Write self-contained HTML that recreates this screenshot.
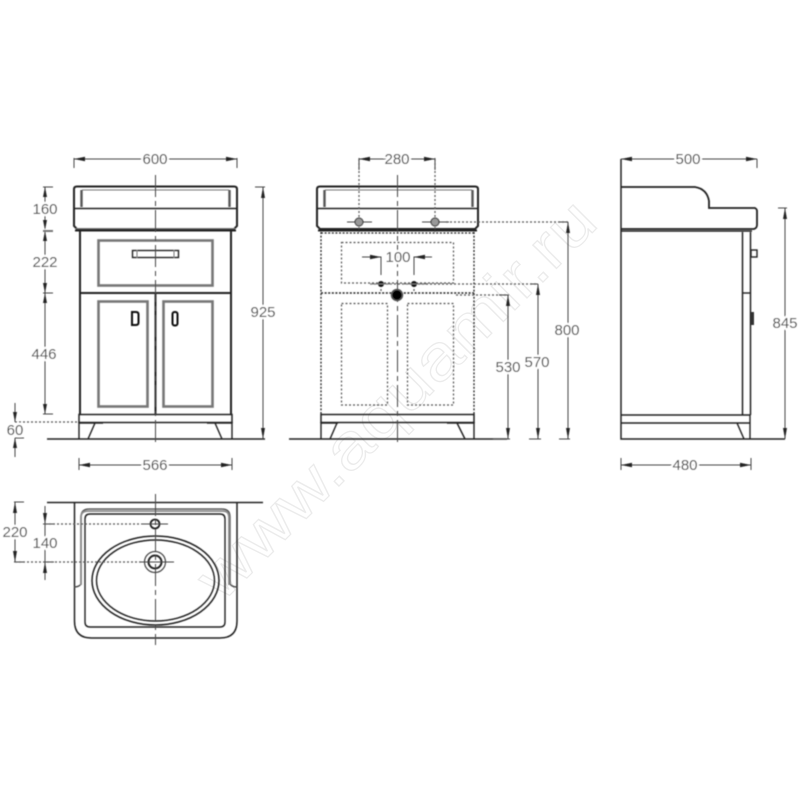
<!DOCTYPE html>
<html><head><meta charset="utf-8"><style>
html,body{margin:0;padding:0;background:#fff;width:800px;height:800px;overflow:hidden}
svg{display:block}
text.d{font:15px "Liberation Sans",sans-serif;fill:#444;text-anchor:middle;paint-order:stroke;stroke:#fff;stroke-width:4px;stroke-linejoin:round}
.o{fill:none;stroke:#222;stroke-width:1.4}
.t{fill:none;stroke:#222;stroke-width:2}
.g{fill:none;stroke:#777;stroke-width:1}
.p{fill:none;stroke:#777;stroke-width:2.6}
.dim{fill:none;stroke:#444;stroke-width:1}
.c{fill:none;stroke:#444;stroke-width:1;stroke-dasharray:22 4 5 4}
.dot{fill:none;stroke:#555;stroke-width:1.2;stroke-dasharray:2 2}
.dotk{fill:none;stroke:#222;stroke-width:1.6;stroke-dasharray:2 1.6}
</style></head><body>
<svg width="800" height="800" viewBox="0 0 800 800" xmlns="http://www.w3.org/2000/svg">
<defs><filter id="b" x="0" y="0" width="100%" height="100%" filterUnits="userSpaceOnUse"><feGaussianBlur stdDeviation="0.45"/></filter></defs>
<g transform="rotate(-45 411 414)"><text x="411" y="414" text-anchor="middle" font-family="Liberation Sans, sans-serif" font-size="63" textLength="535" lengthAdjust="spacingAndGlyphs" fill="#fff" stroke="#ebebeb" stroke-width="1.2">www.aquamir.ru</text></g>

<g filter="url(#b)">
<!-- LEFT FRONT VIEW -->
<path class="dim" d="M74 158V168M237 158V168M74 159H237"/>
<path d="M74 159l11-2.200v4.400zM237 159l-11-2.200v4.400z" fill="#222"/>
<path class="t" d="M74 189q0-2.500 3-2.500H234q3 0 3 2.500V226l-3 3H77l-3-3Z"/>
<path class="o" d="M75 208.500H237"/>
<path class="g" d="M82 190H229"/>
<path d="M81.500 190V207M229.500 190V207" fill="none" stroke="#555" stroke-width="2.400"/>
<path class="g" d="M76 228.500H235"/>
<path class="t" d="M75 230.500H236"/>
<path class="t" d="M80 231V414M231 231V414M80 293H231M155.500 293V414"/>
<rect x="98.500" y="240.500" width="114" height="45" class="p"/>
<rect x="132.500" y="250.500" width="46" height="7" class="o"/><path class="g" d="M137 250V258M174 250V258"/>
<rect x="98.500" y="301.500" width="49" height="105" class="p"/>
<rect x="163.500" y="301.500" width="49" height="105" class="p"/>
<path d="M132 312h4q2.500 0 2.500 2.500v8q0 2.500-2.500 2.500h-4Z" fill="none" stroke="#111" stroke-width="2"/>
<rect x="172.500" y="312" width="5" height="13.500" rx="2" fill="none" stroke="#111" stroke-width="2"/>
<path class="t" d="M79 414.500H232V422.500H79Z" style="stroke-width:1.500"/>
<path class="o" d="M79 422V439M232 422V439M79 423H103M207 423H232M95 423L88 439M215 423L222 439"/>
<path class="t" d="M47 439H265" style="stroke-width:1.500"/>
<path class="c" d="M155.500 175V446"/>
<!-- left dims -->
<path class="dim" d="M43 187H53M43 293H53M43 414H53M255 187H265"/>
<path class="dim" d="M45 187V228M45 231V293M45 293V414"/>
<path d="M45 187l-2 10h4zM45 230l-2-10h4zM45 231l-2 10h4zM45 293l-2-10h4zM45 293l-2 10h4zM45 414l-2-10h4z" fill="#222"/>
<path d="M43 231H53" stroke="#777" stroke-width="2"/>
<path class="dim" d="M263 187V439"/><path d="M263 187l-2 11h4zM263 439l-2-11h4z" fill="#222"/>
<path class="dim" d="M15 403V422M15 438V457M15 438H24"/><path d="M15 422l-2-10h4zM15 438l-2 10h4z" fill="#222"/>
<path class="dot" d="M15 422H79"/>
<path class="dim" d="M79 458V470M232 458V470M79 465H232"/><path d="M79 465l11-2.200v4.400zM232 465l-11-2.200v4.400z" fill="#222"/>
<text class="d" x="155" y="164">600</text>
<text class="d" x="45" y="214">160</text>
<text class="d" x="45" y="267">222</text>
<text class="d" x="44" y="359">446</text>
<text class="d" x="15" y="435">60</text>
<text class="d" x="263" y="317">925</text>
<text class="d" x="155" y="470">566</text>

<!-- MIDDLE VIEW -->
<path class="t" d="M317 189q0-2.500 3-2.500H475q3 0 3 2.500V226l-3 3H320l-3-3Z"/>
<path class="o" d="M318 208.500H478"/>
<path class="g" d="M325 190H472"/>
<path d="M324.500 190V207M472.500 190V207" fill="none" stroke="#555" stroke-width="2.400"/>
<path class="t" d="M318 230.500H477"/>
<path class="dotk" d="M321 232V414M474 232V414M321 233H474" style="stroke-width:1.300"/>
<path class="dotk" d="M321 293H474"/>
<path class="dot" d="M341.500 242.500H453.500V283H341.500ZM341.500 303.500H387.500V405H341.500ZM407.500 303.500H453.500V405H407.500Z"/>
<path class="dot" d="M359 159V232M435 159V232"/>
<path class="dot" d="M446 222H568M410 284H536M456 295H509"/>
<path class="dot" d="M370 284H452"/>
<path class="dot" d="M381 285V293M414 285V293"/>
<path class="t" d="M321 414.500H474V422.500H321Z" style="stroke-width:1.500"/>
<path class="o" d="M321 422V439M474 422V439M337 423L330 439M457 423L465 439M321 423H338M447 423H474"/>
<path class="t" d="M289 439H507" style="stroke-width:1.500"/>
<path class="c" d="M397.500 175V446"/>
<path class="dim" d="M347 222H372M422 222H449"/>
<circle cx="359" cy="222" r="4" fill="#999" stroke="#222"/><circle cx="435" cy="222" r="4" fill="#999" stroke="#222"/>
<circle cx="381" cy="284" r="3" fill="#111"/><circle cx="414" cy="284" r="3" fill="#111"/>
<path class="g" d="M370 284H392M403 284H426"/>
<circle cx="397" cy="295" r="5.500" fill="#000" stroke="#555" stroke-width="1.500"/>
<!-- mid dims -->
<path class="dim" d="M359 158V170M435 158V170M359 159H435"/><path d="M359 159l11-2.200v4.400zM435 159l-11-2.200v4.400z" fill="#222"/>
<path class="dim" d="M362 257H381V275M414 275V257H432"/><path d="M381 257l-11-2.200v4.400zM414 257l11-2.200v4.400z" fill="#222"/>
<path class="dim" d="M559 222H568M568 222V439M530 284H538M538 284V439M499 295H508M508 295V439M493 439H510M529 439H541M559 439H570"/>
<path d="M568 222l-2 11h4zM568 439l-2-11h4zM538 284l-2 11h4zM538 439l-2-11h4zM508 295l-2 11h4zM508 439l-2-11h4z" fill="#222"/>
<text class="d" x="397" y="164">280</text>
<text class="d" x="398" y="262">100</text>
<text class="d" x="508" y="372">530</text>
<text class="d" x="537" y="367">570</text>
<text class="d" x="567" y="335">800</text>

<!-- RIGHT VIEW -->
<path class="t" d="M621 159V439H785" style="stroke-width:1.500"/>
<path class="dim" d="M621 159H757M757 159V168"/><path d="M621 159l11-2.200v4.400zM757 159l-11-2.200v4.400z" fill="#222"/>
<path class="t" d="M621 187H695q12 2 14 14V208H755q2 1 2 3V225q0 3-3 4H621" style="stroke-width:1.800"/>
<path class="o" d="M621 231H752"/>
<path class="t" d="M742.500 232V415M750.500 232V415" style="stroke-width:1.500"/>
<path class="o" d="M742 293H750"/>
<rect x="751" y="250" width="6" height="7" class="o"/>
<path d="M751 312H754V325H751Z" fill="#333"/>
<path class="o" d="M621 415H750V423H621M750 423V439M725 423H737L744 439"/>
<path class="dim" d="M778 208H787M785 208V439"/><path d="M785 208l-2 11h4zM785 439l-2-11h4z" fill="#222"/>
<path class="dim" d="M621 458V470M751 458V470M621 465H751"/><path d="M621 465l11-2.200v4.400zM751 465l-11-2.200v4.400z" fill="#222"/>
<text class="d" x="688" y="164">500</text>
<text class="d" x="785" y="328">845</text>
<text class="d" x="685" y="470">480</text>

<!-- BOTTOM VIEW -->
<path class="o" d="M47 502.500H263"/>
<path class="t" d="M74.500 502.500V621q0 17 17 17H220q17 0 17-17V502.500" style="stroke-width:1.500"/>
<path d="M74 587q5 0 7-3V517q0-8 8-8H222q8 0 8 8V584q2 3 7 3" fill="none" stroke="#444" stroke-width="1.300"/>
<path d="M81 585V517q0-6 7-6H223q6 0 6 6V585" fill="none" stroke="#888" stroke-width="1.800"/>
<path class="o" d="M85 519q0-5 5-5H220q5 0 5 5V622q0 5-5 5H90q-5 0-5-5Z"/>
<ellipse cx="155.500" cy="580.500" rx="63.500" ry="44.500" class="t" style="stroke-width:1.500"/>
<ellipse cx="155.500" cy="580.500" rx="59" ry="40.500" class="o"/>
<circle cx="155" cy="524" r="4.500" fill="none" stroke="#222" stroke-width="1.800"/>
<circle cx="155" cy="562" r="10.500" fill="none" stroke="#444" stroke-width="1.200"/>
<circle cx="155" cy="562" r="6.500" fill="none" stroke="#222" stroke-width="2"/>
<path class="c" d="M155.500 494V645"/>
<path class="dim" d="M141 524H168M141 562H174"/>
<path class="dim" d="M14 502H24M14 562H24M15 502V562M45 506V580M43 524H54M43 562H54"/>
<path d="M15 502l-2 11h4zM15 562l-2-11h4zM45 524l-2-11h4zM45 562l-2 11h4z" fill="#222"/>
<path class="dot" d="M45 524H141M15 562H141"/>
<text class="d" x="15" y="537">220</text>
<text class="d" x="45" y="548">140</text>
</g>
</svg>
</body></html>
